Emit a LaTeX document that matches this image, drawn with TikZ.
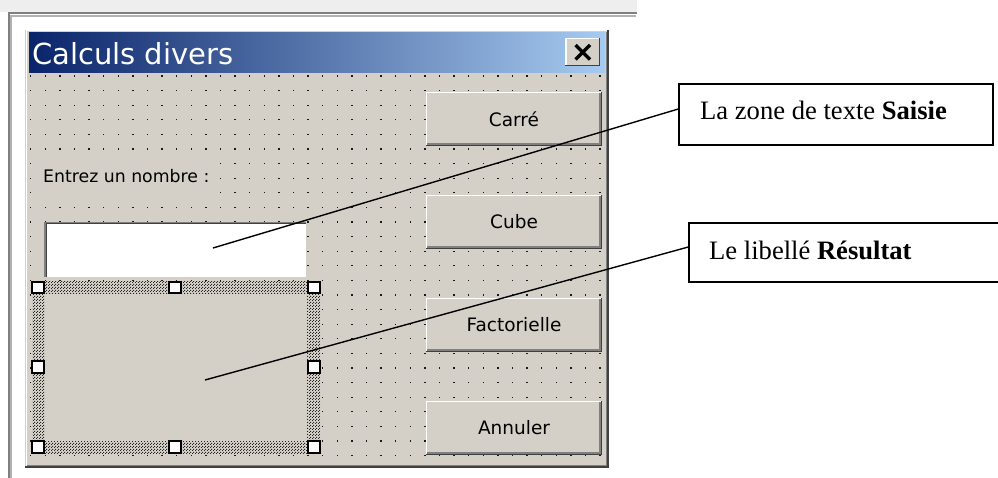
\documentclass[tikz,border=0pt]{standalone}
\usepackage{fontspec}
\setmainfont{Liberation Serif}
\newfontfamily\uifont{DejaVu Sans}
\usetikzlibrary{patterns}

\definecolor{formgray}{HTML}{D4D0C8}
\definecolor{shadowgray}{HTML}{808080}
\definecolor{darkedge}{HTML}{404040}
\definecolor{titledark}{HTML}{0A246A}
\definecolor{titlelight}{HTML}{A6CAF0}
\definecolor{bandgray}{HTML}{EEEEEE}

% dense dot texture of the sizing frame around a selected control
\pgfdeclarepatternformonly{selhatch}{\pgfpointorigin}{\pgfpoint{3pt}{3pt}}{\pgfpoint{3pt}{3pt}}{
  \pgfpathrectangle{\pgfpointorigin}{\pgfpoint{1.3pt}{1.3pt}}
  \pgfpathrectangle{\pgfpoint{1.5pt}{1.5pt}}{\pgfpoint{1.3pt}{1.3pt}}
  \pgfusepath{fill}
}

\tikzset{
  uibutton/.style={rectangle, fill=formgray, inner sep=0pt,
    minimum width=176pt, minimum height=54pt,
    font=\uifont\fontsize{18.5}{20}\selectfont},
  handle/.style={rectangle, draw=black, fill=white, line width=1.8pt,
    minimum size=11.5pt, inner sep=0pt},
  callout/.style={rectangle, draw=black, line width=1.4pt, fill=white,
    inner sep=0pt},
  leader/.style={draw=black, line width=1.4pt},
  griddot/.style={fill=black!90},
}

\begin{document}
\begin{tikzpicture}[x=1pt, y=-1pt]
\useasboundingbox (0,0) rectangle (998,478);
\fill[white] (0,0) rectangle (998,478);

% window behind the form
\fill[bandgray] (0,0) rectangle (637,12);
\draw[shadowgray, line width=2pt] (8.5,478) -- (8.5,13.5) -- (637,13.5);
\draw[black!30, line width=1.5pt] (11,478) -- (11,16) -- (636,16);

% form body
\fill[formgray] (25,30) rectangle (608,467);
\draw[white, line width=1pt] (26,466) -- (26,31) -- (607,31);
\draw[darkedge, line width=1.2pt] (25,467) -- (608,467) -- (608,30);
\draw[shadowgray, line width=1.2pt] (27,465.5) -- (606.5,465.5) -- (606.5,32);

% title bar
\fill[left color=titledark, right color=titlelight] (29,33) rectangle (605,73);
\node[anchor=base west, text=white, inner sep=0pt,
      font=\uifont\fontsize{29}{32}\selectfont] (title) at (32,65) {Calculs divers};

% design grid
\foreach \i in {0,...,39}{
  \foreach \j in {0,...,26}{
    \fill[griddot] ({30.7+14.6*\i-0.65},{76+14.6*\j-0.65}) rectangle ++(1.3,1.3);
  }
}

% close button
\node[rectangle, fill=formgray, minimum width=34pt, minimum height=28pt,
      inner sep=0pt] (closebtn) at (582.5,52) {};
\draw[white, line width=1.2pt] ([xshift=.6pt]closebtn.south west) -- ([xshift=.6pt,yshift=-.6pt]closebtn.north west) -- ([yshift=-.6pt]closebtn.north east);
\draw[darkedge, line width=1.2pt] ([xshift=-.6pt]closebtn.north east) -- ([xshift=-.6pt,yshift=.6pt]closebtn.south east) -- ([yshift=.6pt]closebtn.south west);
\draw[black, line width=3.4pt] (575.5,45) -- (590,59.5);
\draw[black, line width=3.4pt] (590,45) -- (575.5,59.5);

% command buttons
\node[uibutton] (carre) at (514,119) {Carré};
\node[uibutton] (cube)  at (514,222) {Cube};
\node[uibutton] (fact)  at (514,325) {Factorielle};
\node[uibutton] (annul) at (514,428) {Annuler};
\foreach \b in {carre,cube,fact,annul}{
  \draw[white, line width=1.5pt] ([xshift=.75pt]\b.south west) -- ([xshift=.75pt,yshift=-.75pt]\b.north west) -- ([yshift=-.75pt]\b.north east);
  \draw[darkedge, line width=1.6pt] ([xshift=-.8pt]\b.north east) -- ([xshift=-.8pt,yshift=.8pt]\b.south east) -- ([yshift=.8pt]\b.south west);
  \draw[shadowgray, line width=1.6pt] ([xshift=-2.4pt,yshift=-1.6pt]\b.north east) -- ([xshift=-2.4pt,yshift=2.4pt]\b.south east) -- ([xshift=1.6pt,yshift=2.4pt]\b.south west);
}

% static label
\fill[formgray] (38,157) rectangle (213,200);
\node[anchor=base west, inner sep=0pt,
      font=\uifont\fontsize{17.3}{20}\selectfont] (prompt) at (43,183) {Entrez un nombre :};

% text box Saisie
\node[rectangle, fill=white, minimum width=262pt, minimum height=56pt,
      inner sep=0pt] (saisie) at (175.5,250) {};
\draw[shadowgray, line width=1.2pt] ([xshift=.6pt]saisie.south west) -- ([xshift=.6pt,yshift=-.6pt]saisie.north west) -- ([yshift=-.6pt]saisie.north east);
\draw[darkedge, line width=1.2pt] ([xshift=1.8pt,yshift=.6pt]saisie.south west) -- ([xshift=1.8pt,yshift=-1.8pt]saisie.north west) -- ([xshift=-.6pt,yshift=-1.8pt]saisie.north east);
\draw[formgray, line width=1.2pt] ([xshift=-.6pt]saisie.north east) -- ([xshift=-.6pt,yshift=.6pt]saisie.south east) -- ([yshift=.6pt]saisie.south west);

% selected label Resultat with its sizing frame
\fill[formgray] (32,281) rectangle (320,453);
\fill[pattern=selhatch, pattern color=black!85] (32,281) rectangle (320,453);
\node[rectangle, fill=formgray, minimum width=262pt, minimum height=147pt,
      inner sep=0pt] (resultat) at (176,367.5) {};
\foreach \hx/\hy/\hn in {38/287.5/h1, 175/287.5/h2, 314/287.5/h3,
                          38/367/h4, 314/367/h5,
                          38/447/h6, 175/447/h7, 314/447/h8}{
  \node[handle] (\hn) at (\hx,\hy) {};
}

% callouts
\node[callout, minimum width=314pt, minimum height=61pt] (box1) at (836,114.5) {};
\node[anchor=base west, inner sep=0pt, font=\fontsize{26.6}{30}\selectfont] (txt1) at (700,120) {La zone de texte \textbf{Saisie}};
\node[callout, minimum width=330pt, minimum height=59pt] (box2) at (854,252.5) {};
\node[anchor=base west, inner sep=0pt, font=\fontsize{26.6}{30}\selectfont] (txt2) at (709,259) {Le libellé \textbf{Résultat}};

% leader lines
\coordinate (p1) at (213,248);
\coordinate (p2) at (205,380);
\draw[leader] (p1) -- ([yshift=5.5pt]box1.west);
\draw[leader] (p2) -- ([yshift=5.5pt]box2.west);
\end{tikzpicture}
\end{document}
